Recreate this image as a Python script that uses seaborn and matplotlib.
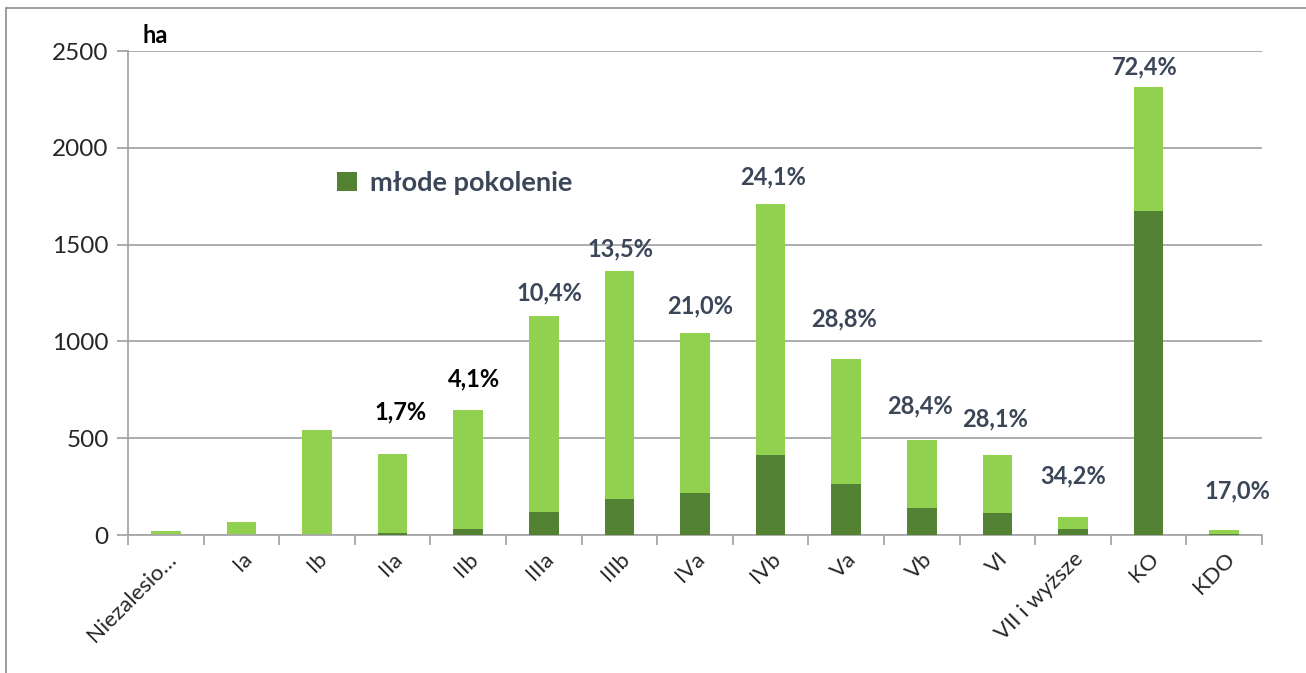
import matplotlib
matplotlib.use('Agg')
import matplotlib.pyplot as plt
import seaborn as sns
import numpy as np
from matplotlib.patches import Patch
from matplotlib.lines import Line2D

# Data (ha)
categories = ['Niezalesio…', 'Ia', 'Ib', 'IIa', 'IIb', 'IIIa', 'IIIb', 'IVa', 'IVb',
              'Va', 'Vb', 'VI', 'VII i wyższe', 'KO', 'KDO']
total_ha = [21, 69, 543, 419, 645, 1131, 1364, 1043, 1710, 909, 491, 413, 95, 2313, 26]
young_ha = [0, 0, 0, 8, 29, 117, 184, 219, 412, 262, 139, 116, 33, 1675, 4.5]
share_labels = [None, None, None, '1,7%', '4,1%', '10,4%', '13,5%', '21,0%', '24,1%',
                '28,8%', '28,4%', '28,1%', '34,2%', '72,4%', '17,0%']

# label placement (pixels from bar top) and colours
label_dx = [0, 0, 0, 8, 6, 6, 1, 5, 2, -2, -2, -2, 0, -4, 13]
label_dy = [0, 0, 0, 42, 31, 23, 22, 27, 27, 40, 34, 36, 41, 20, 39]
label_col = ['black'] * 5 + ['#3B4658'] * 10

light_green = '#92D050'
dark_green = '#548235'
grey = '#A6A6A6'

sns.set_style('white')
plt.rcParams['font.family'] = ['Lato', 'DejaVu Sans']

fig = plt.figure(figsize=(13.06, 6.73), dpi=100)
ax = fig.add_axes([128 / 1306, 138 / 673, 1134 / 1306, 484 / 673])

sns.barplot(x=categories, y=total_ha, color=light_green, width=0.39,
            saturation=1, linewidth=0, edgecolor='none', ax=ax, zorder=2)
sns.barplot(x=categories, y=young_ha, color=dark_green, width=0.39,
            saturation=1, linewidth=0, edgecolor='none', ax=ax, zorder=3)

ax.set_ylim(0, 2500)
ax.set_xlim(-0.5, len(categories) - 0.5)
ax.set_yticks(np.arange(0, 2501, 500))
ax.yaxis.grid(True, color=grey, linewidth=1.3, zorder=0)
ax.set_axisbelow(True)

for side in ['top', 'right']:
    ax.spines[side].set_visible(False)
for side in ['left', 'bottom']:
    ax.spines[side].set_color(grey)
    ax.spines[side].set_linewidth(1.3)

ax.tick_params(axis='y', length=8, width=1.3, color=grey, labelsize=17.5,
               labelcolor='#262626', pad=6, left=True)
ax.set_xticks(np.arange(-0.5, len(categories), 1), minor=True)
ax.tick_params(axis='x', which='minor', length=7, width=1.3, color=grey, bottom=True)
ax.tick_params(axis='x', which='major', length=0, labelsize=16, labelcolor='#262626', pad=10)
ax.set_xticks(range(len(categories)))
ax.set_xticklabels(categories, rotation=45, ha='right', rotation_mode='anchor')
ax.set_xlabel('')
ax.set_ylabel('')

for i, lab in enumerate(share_labels):
    if lab is None:
        continue
    ax.annotate(lab, (i, total_ha[i]), xytext=(label_dx[i], label_dy[i]),
                textcoords='offset pixels', ha='center', va='center',
                fontsize=17, fontweight='bold', color=label_col[i])

ax.text(15 / 1134, 1.031, 'ha', transform=ax.transAxes, fontsize=17,
        fontweight='bold', color='black', va='center', ha='left')

handle = Patch(facecolor=dark_green, edgecolor='none')
ax.legend([handle], ['młode pokolenie'], loc='center left',
          bbox_to_anchor=((337 - 128) / 1134, (535 - 183) / 484),
          frameon=False, handlelength=0.75, handleheight=0.75, handletextpad=0.45,
          borderpad=0, borderaxespad=0,
          prop={'size': 19.5, 'weight': 'bold'}, labelcolor='#3B4658')

# outer chart frame (top and left edges visible)
fig.add_artist(Line2D([6 / 1306, 1], [1 - 8 / 673, 1 - 8 / 673], color='#8C8C8C',
                      linewidth=1.2, transform=fig.transFigure))
fig.add_artist(Line2D([6 / 1306, 6 / 1306], [0, 1 - 8 / 673], color='#8C8C8C',
                      linewidth=1.2, transform=fig.transFigure))

fig.savefig('out.png', dpi=100)
